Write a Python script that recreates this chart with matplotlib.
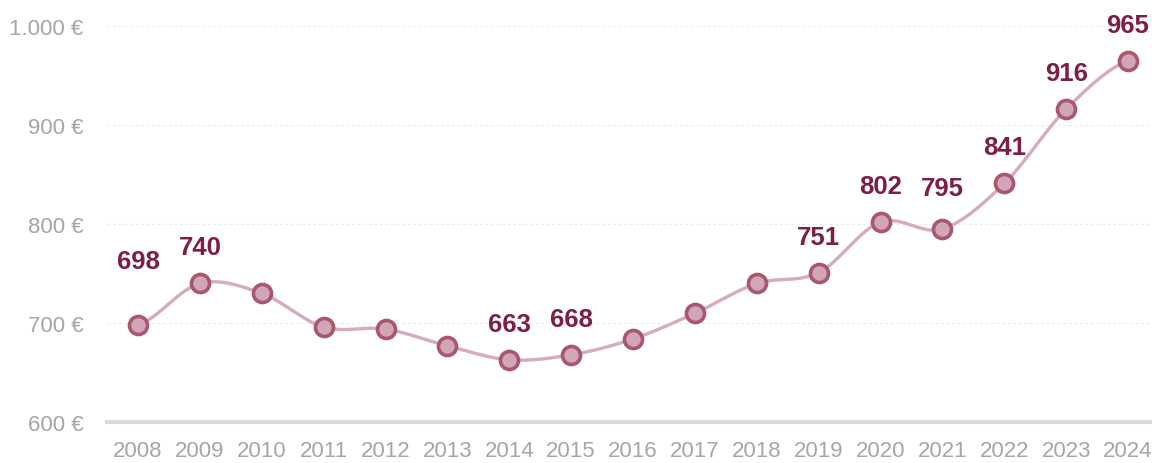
import numpy as np
import matplotlib
matplotlib.use("Agg")
from matplotlib import pyplot as plt
from matplotlib.ticker import FuncFormatter

plt.rcParams["font.family"] = ["Liberation Sans", "DejaVu Sans"]

# %%
years = [2008, 2009, 2010, 2011, 2012, 2013, 2014, 2015, 2016,
         2017, 2018, 2019, 2020, 2021, 2022, 2023, 2024]
values = [698, 740, 730, 696, 694, 677, 663, 668, 684,
          710, 740, 751, 802, 795, 841, 916, 965]
labeled_years = [2008, 2009, 2014, 2015, 2019, 2020, 2021, 2022, 2023, 2024]
label_offset = {2008: 64, 2021: 41}  # pixels above the point, default 36

line_col = "#d5abbd"
face_col = "#d2a6ba"
edge_col = "#a9566f"
text_col = "#7e1d45"
gray = "#a6a6a6"


# %%
def smooth(x, y, n=30):
    # Catmull-Rom style cubic hermite, only for drawing the curve
    x = np.asarray(x, float)
    y = np.asarray(y, float)
    m = np.zeros_like(y)
    m[1:-1] = (y[2:] - y[:-2]) / (x[2:] - x[:-2])
    m[0] = (y[1] - y[0]) / (x[1] - x[0]) * 0.5
    m[-1] = (y[-1] - y[-2]) / (x[-1] - x[-2]) * 0.5
    xs, ys = [], []
    for i in range(len(x) - 1):
        h = x[i + 1] - x[i]
        t = np.linspace(0, 1, n, endpoint=False)
        h00 = 2 * t**3 - 3 * t**2 + 1
        h10 = t**3 - 2 * t**2 + t
        h01 = -2 * t**3 + 3 * t**2
        h11 = t**3 - t**2
        xs.append(x[i] + t * h)
        ys.append(h00 * y[i] + h10 * h * m[i] + h01 * y[i + 1] + h11 * h * m[i + 1])
    xs.append([x[-1]])
    ys.append([y[-1]])
    return np.concatenate(xs), np.concatenate(ys)


# %%
fig = plt.figure(figsize=(11.52, 4.64), dpi=100)
ax = fig.add_axes([0.093, 0.088, 0.905, 0.854])

sx, sy = smooth(years, values)
ax.plot(sx, sy, color=line_col, lw=2.4, zorder=3, clip_on=False)
ax.plot(years, values, "o", ms=13, mfc=face_col, mec=edge_col, mew=2.6,
        zorder=4, clip_on=False)

for yr, v in zip(years, values):
    if yr in labeled_years:
        ax.annotate(str(v), (yr, v), xytext=(0, label_offset.get(yr, 36)),
                    textcoords="offset pixels", ha="center", va="center",
                    fontsize=18.5, fontweight="bold", color=text_col,
                    annotation_clip=False, zorder=5)

ax.set_xlim(2007.5, 2024.35)
ax.set_ylim(600, 1000)
ax.set_xticks(years)
ax.set_yticks([600, 700, 800, 900, 1000])
ax.yaxis.set_major_formatter(
    FuncFormatter(lambda v, p: f"{int(v):,} €".replace(",", ".")))

for yv in [700, 800, 900, 1000]:
    ax.axhline(yv, color="#ececec", lw=0.8, ls=(0, (3, 2)), zorder=1)
ax.axhline(600, color="#d9d9d9", lw=3, zorder=2, clip_on=False)

for s in ax.spines.values():
    s.set_visible(False)
ax.tick_params(length=0, colors=gray, labelsize=16)
ax.tick_params(axis="y", pad=17)
ax.tick_params(axis="x", pad=13)

fig.savefig("out.png", dpi=100)
